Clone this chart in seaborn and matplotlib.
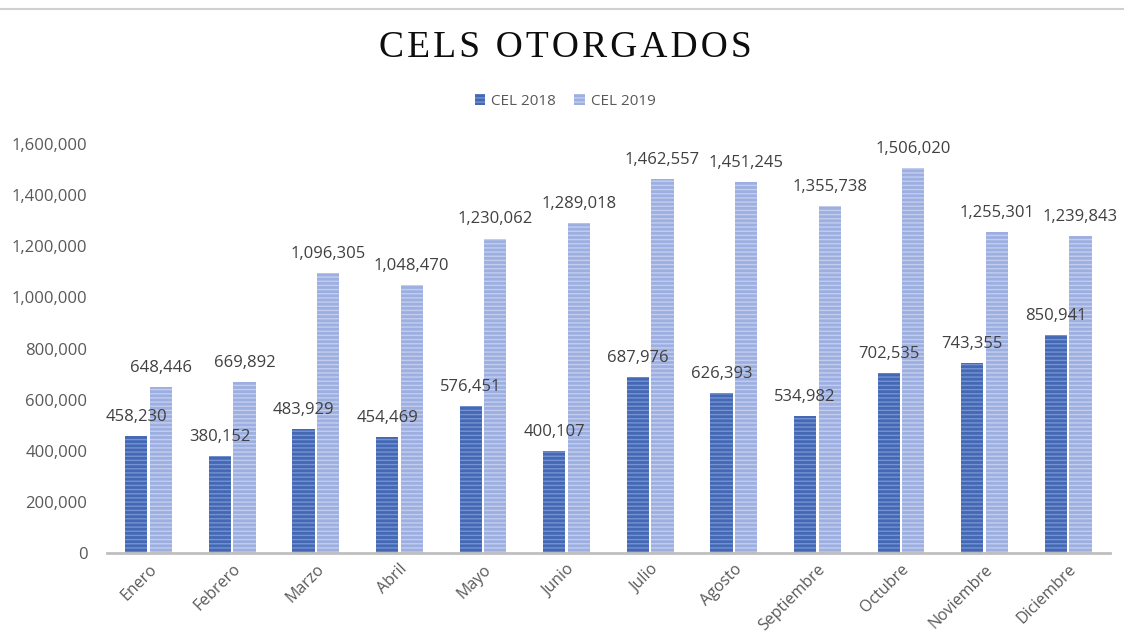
import pandas as pd
import matplotlib.pyplot as plt
import matplotlib.patches as mpatches
from matplotlib.lines import Line2D
from matplotlib.ticker import FuncFormatter
import seaborn as sns

# data
meses = ['Enero', 'Febrero', 'Marzo', 'Abril', 'Mayo', 'Junio', 'Julio',
         'Agosto', 'Septiembre', 'Octubre', 'Noviembre', 'Diciembre']
cel_2018 = [458230, 380152, 483929, 454469, 576451, 400107, 687976,
            626393, 534982, 702535, 743355, 850941]
cel_2019 = [648446, 669892, 1096305, 1048470, 1230062, 1289018, 1462557,
            1451245, 1355738, 1506020, 1255301, 1239843]
series = ['CEL 2018', 'CEL 2019']
titulo = 'CELS OTORGADOS'

df = pd.DataFrame({
    'mes': meses * 2,
    'valor': cel_2018 + cel_2019,
    'serie': [series[0]] * 12 + [series[1]] * 12,
})

face = {'CEL 2018': '#4468b4', 'CEL 2019': '#9dafe0'}
stripe = {'CEL 2018': '#7593d2', 'CEL 2019': '#c3cdee'}

sns.set_style('white')
plt.rcParams['font.family'] = ['Open Sans', 'DejaVu Sans']
plt.rcParams['hatch.linewidth'] = 1.0

fig = plt.figure(figsize=(11.24, 6.42), dpi=100)
ax = fig.add_axes([0.095, 0.1386, 0.8925, 0.6371])

sns.barplot(data=df, x='mes', y='valor', hue='serie', palette=face,
            width=0.59, gap=0.1, ax=ax, legend=False)

for cont, s in zip(ax.containers, series):
    for bar in cont:
        bar.set_facecolor(face[s])
        bar.set_edgecolor(stripe[s])
        bar.set_linewidth(0)
        bar.set_hatch('----')
    ax.bar_label(cont, labels=[f'{v:,.0f}' for v in cont.datavalues],
                 padding=8, fontsize=12, color='#404040')

ax.set_ylim(0, 1600000)
ax.set_xlim(-0.5, 11.5)
ax.set_yticks(range(0, 1600001, 200000))
ax.yaxis.set_major_formatter(FuncFormatter(lambda v, p: f'{v:,.0f}'))
ax.tick_params(axis='y', labelsize=12, labelcolor='#595959', length=0, pad=14)
ax.tick_params(axis='x', labelsize=11.5, labelcolor='#595959', length=0, pad=6)
plt.setp(ax.get_xticklabels(), rotation=45, ha='right', rotation_mode='anchor')
ax.set_xlabel('')
ax.set_ylabel('')

for side in ['top', 'right', 'left']:
    ax.spines[side].set_visible(False)
ax.spines['bottom'].set_color('#bfbfbf')
ax.spines['bottom'].set_linewidth(2)

handles = [mpatches.Patch(facecolor=face[s], edgecolor=stripe[s], linewidth=0,
                          hatch='----', label=s) for s in series]
fig.legend(handles=handles, loc='center', bbox_to_anchor=(0.503, 0.842), ncol=2,
           frameon=False, fontsize=11, handlelength=0.7, handleheight=0.7,
           handletextpad=0.4, columnspacing=1.2, labelcolor='#595959')

# letter-spaced title (hair spaces between letters)
spaced = '\u200a \u200a'.join('\u200a'.join(w) for w in titulo.split(' '))
fig.text(0.503, 0.926, spaced, ha='center', va='center', fontsize=27,
         family=['Liberation Serif', 'DejaVu Serif'], color='#0d0d0d')

fig.add_artist(Line2D([0, 1], [0.986, 0.986], color='#d0d0d0', linewidth=1.5))

fig.savefig('out.png', dpi=100)
